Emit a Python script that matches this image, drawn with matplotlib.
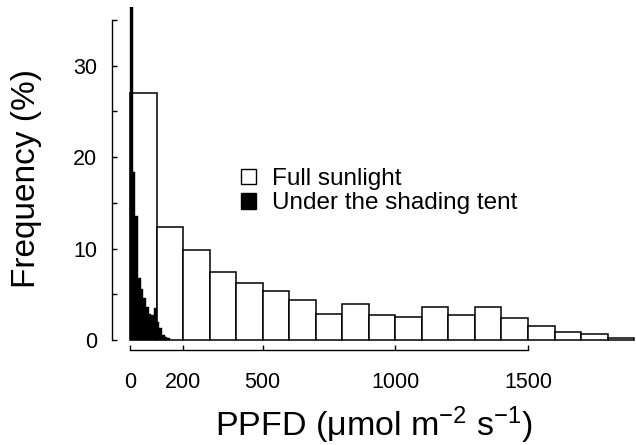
import numpy as np
import matplotlib
matplotlib.use('Agg')
import matplotlib.pyplot as plt
from matplotlib.patches import Patch

plt.rcParams['font.family'] = ['Liberation Sans', 'DejaVu Sans']
plt.rcParams['mathtext.fontset'] = 'custom'
plt.rcParams['mathtext.rm'] = 'Liberation Sans'
plt.rcParams['mathtext.it'] = 'Liberation Sans:italic'
plt.rcParams['mathtext.default'] = 'rm'

# PPFD histograms, frequency in %
sun_edges = np.arange(0, 2000, 100)
sun_freq = [27.0, 12.35, 9.8, 7.4, 6.2, 5.3, 4.4, 2.8, 3.9, 2.7,
            2.5, 3.6, 2.7, 3.55, 2.4, 1.5, 0.9, 0.6, 0.2]

shade_edges = np.arange(0, 160, 10)
shade_freq = [45.0, 18.4, 13.6, 6.8, 5.6, 4.6, 3.6, 2.8, 2.7, 3.5,
              2.0, 1.3, 0.5, 0.3, 0.2]

xticks = [0, 200, 500, 1000, 1500]
yticks = [0, 5, 10, 15, 20, 25, 30, 35]
ytick_labels = ['0', '', '10', '', '20', '', '30', '']

fig = plt.figure(figsize=(6.36, 4.45), dpi=100)
ax = fig.add_axes([0.1761, 0.2135, 0.8239, 0.7715])

ax.bar(sun_edges[:-1], sun_freq, width=100, align='edge',
       facecolor='white', edgecolor='black', linewidth=1.1, zorder=2)
ax.bar(shade_edges[:-1], shade_freq, width=10, align='edge',
       facecolor='black', edgecolor='black', linewidth=0.3, zorder=3)

ax.set_xlim(-68, 1907)
ax.set_ylim(-1.1, 36.45)

for side in ['top', 'right']:
    ax.spines[side].set_visible(False)
ax.spines['left'].set_bounds(0, 35)
ax.spines['bottom'].set_bounds(0, 1500)
ax.spines['left'].set_linewidth(1.0)
ax.spines['bottom'].set_linewidth(1.0)

ax.set_xticks(xticks)
ax.set_xticklabels([str(t) for t in xticks])
ax.set_yticks(yticks)
ax.set_yticklabels(ytick_labels)
ax.tick_params(direction='in', length=3.6, width=1.0, labelsize=15.5)
ax.tick_params(axis='x', pad=16)
ax.tick_params(axis='y', pad=10.5)

ax.set_ylabel('Frequency (%)', fontsize=24)
ax.yaxis.set_label_coords(-0.134, 0.5)
ax.set_xlabel('PPFD (μmol m$^{-2}$ s$^{-1}$)', fontsize=24.5)
ax.xaxis.set_label_coords(0.5, -0.158)

handles = [Patch(facecolor='white', edgecolor='black', linewidth=1.0),
           Patch(facecolor='black', edgecolor='black', linewidth=1.0)]
ax.legend(handles, ['Full sunlight', 'Under the shading tent'],
          loc='upper left', bbox_to_anchor=(241 / 636, 1 - 168 / 445),
          bbox_transform=fig.transFigure,
          frameon=False, fontsize=17.5, handlelength=0.61, handleheight=0.61,
          handletextpad=0.66, labelspacing=0.1, borderpad=0, borderaxespad=0)

fig.savefig('out.png', dpi=100)
